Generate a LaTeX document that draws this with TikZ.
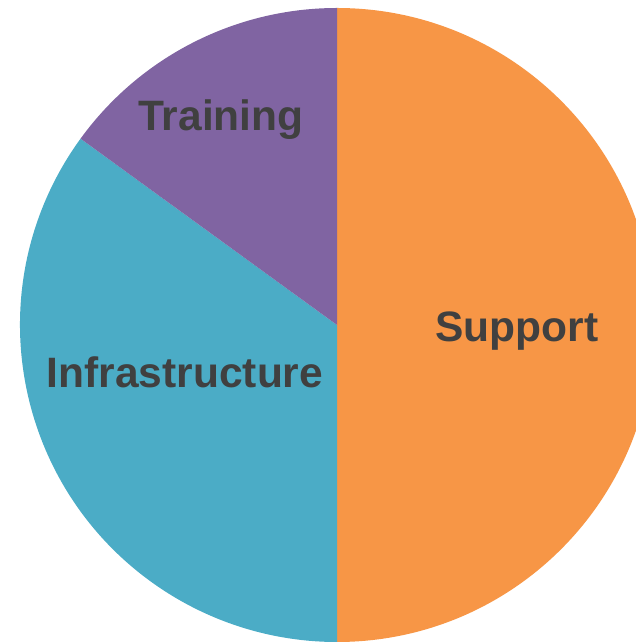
\documentclass[tikz,border=0pt]{standalone}
\usepackage{fontspec}
\setmainfont{Liberation Sans}
\definecolor{supportc}{HTML}{F79646}
\definecolor{infrac}{HTML}{4BACC6}
\definecolor{trainc}{HTML}{8064A2}
\definecolor{labelc}{HTML}{404040}
\begin{document}
\begin{tikzpicture}[x=1pt,y=1pt]
    \clip (0,0) rectangle (636,642);
    \useasboundingbox (0,0) rectangle (636,642);
    \coordinate (o) at (337,317);
    \fill[supportc] (o) -- ++(90:317) arc (90:-90:317) -- cycle;
    \fill[infrac] (o) -- ++(144:317) arc (144:270:317) -- cycle;
    \fill[trainc] (o) -- ++(90:317) arc (90:144:317) -- cycle;
    \begin{scope}[every node/.style={text=labelc,font=\fontsize{42.5}{42.5}\selectfont\bfseries,inner sep=0pt}]
    \node (s) at (517,311) {Support};
    \node (i) at (185,270) {Infrastructure};
    \node (t) at (221,522) {Training};
    \end{scope}
\end{tikzpicture}
\end{document}
